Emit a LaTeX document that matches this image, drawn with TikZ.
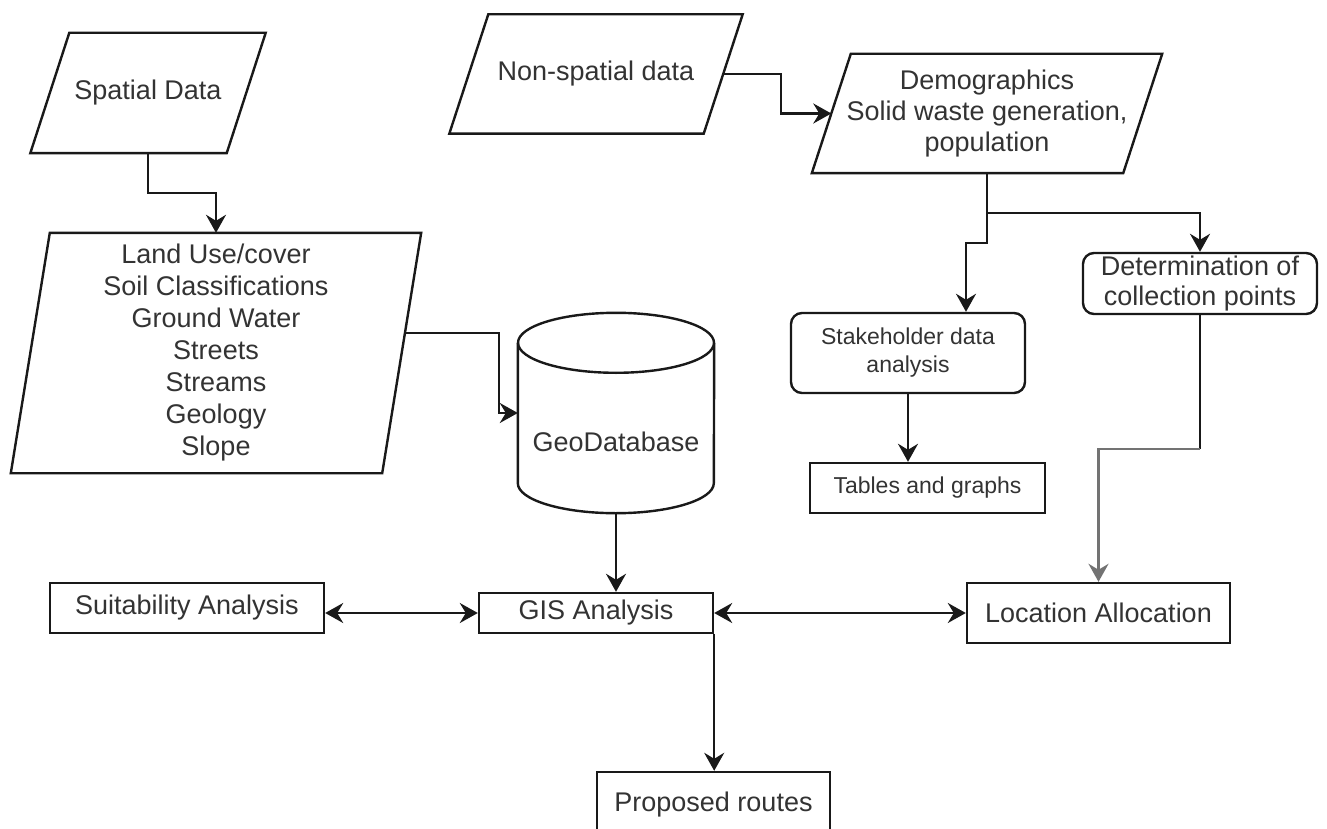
\documentclass[tikz,border=0pt]{standalone}
\usepackage{fontspec}
\setmainfont{Liberation Sans}
\usetikzlibrary{arrows.meta,calc}

\tikzset{
  every node/.style={text=black!80, align=center, inner sep=0pt,
    font=\fontsize{27}{32}\selectfont},
  line/.style={draw=black!90, line width=2.4pt},
  headtip/.style={-{Stealth[length=18pt,width=20pt,inset=6pt]}},
  arr/.style={line, headtip},
  biarr/.style={line, {Stealth[length=18pt,width=20pt,inset=6pt]}-{Stealth[length=18pt,width=20pt,inset=6pt]}},
  plainbox/.style={draw=black!90, line width=2.4pt, rectangle},
  roundbox/.style={plainbox, rounded corners=11pt},
  slantbox/.style={rectangle},
  cyl/.style={rectangle, minimum width=196pt, minimum height=200pt},
}

\begin{document}
\begin{tikzpicture}[x=1pt, y=-1pt]
  \useasboundingbox (0,0) rectangle (1327,829);
  \clip (0,0) rectangle (1327,829);
  \fill[white] (0,0) rectangle (1327,829);

  % input data (parallelograms, outline drawn below)
  \node[slantbox, minimum width=196pt, minimum height=120pt] (spatial) at (148,93) {Spatial Data};
  \node[slantbox, minimum width=371pt, minimum height=240pt] (layers) at (216,353)
    {Land Use/cover\\Soil Classifications\\Ground Water\\Streets\\Streams\\Geology\\Slope};
  \node[slantbox, minimum width=254pt, minimum height=119pt] (nonsp) at (596,74) {Non-spatial data};
  \node[slantbox, minimum width=311pt, minimum height=119pt,
        font=\fontsize{27}{31}\selectfont] (demo) at (987,113.5)
    {Demographics\\Solid waste generation,\\population};

  \foreach \n in {spatial,layers,nonsp,demo}
    \draw[line, line join=miter]
      ([xshift=19.5pt]\n.north west) -- ([xshift=19.5pt]\n.north east) --
      ([xshift=-19.5pt]\n.south east) -- ([xshift=-19.5pt]\n.south west) -- cycle;

  % database cylinder
  \node[cyl, label={[yshift=-29pt]center:GeoDatabase}] (geo) at (616,413) {};
  \draw[line] ([yshift=-30pt]geo.north) ellipse [x radius=98pt, y radius=30pt];
  \draw[line] ([yshift=-30pt]geo.north west) -- ([yshift=30pt]geo.south west)
    arc [start angle=180, end angle=360, x radius=98pt, y radius=30pt]
    -- ([yshift=-30pt]geo.north east);

  % processing steps
  \node[roundbox, minimum width=234pt, minimum height=80pt,
        font=\fontsize{23}{28}\selectfont] (stake) at (908,353) {Stakeholder data\\analysis};
  \node[plainbox, minimum width=235pt, minimum height=50pt,
        font=\fontsize{23}{28}\selectfont] (tables) at (927.5,488) {Tables and graphs};
  \node[roundbox, minimum width=234pt, minimum height=61pt,
        font=\fontsize{27}{30}\selectfont] (det) at (1200,283.5) {Determination of\\collection points};
  \node[plainbox, minimum width=263pt, minimum height=60pt] (loc) at (1098.5,613) {Location Allocation};
  \node[plainbox, minimum width=234pt, minimum height=40pt] (gis) at (596,613) {GIS Analysis};
  \node[plainbox, minimum width=274pt, minimum height=50pt] (suit) at (187,608) {Suitability Analysis};
  \node[plainbox, minimum width=233pt, minimum height=66pt] (prop) at (713.5,805) {Proposed routes};

  % connectors
  \draw[arr] (spatial.south) -- ++(0,40) -| (layers.north);
  \draw[arr] (nonsp.east) -- ++(58,0) |- (demo.west);
  \draw[arr] (demo.south) -- ++(0,40) -| (det.north);
  \draw[arr] (demo.south) -- ++(0,70) -| ([xshift=58pt]stake.north);
  \draw[arr] (stake.south) -- (stake.south |- tables.north);
  \coordinate (bend) at ($(det.south)+(0,134)$);
  \draw[line] (det.south) -- (bend);
  \draw[arr, draw=black!55] (bend) -| (loc.north);
  \draw[arr] ([shift={(3.2pt,20pt)}]layers.east) -- ++(94,0) |- (geo.west);
  \draw[arr] (geo.south) -- (geo.south |- gis.north);
  \draw[biarr] (gis.west -| suit.east) -- (gis.west);
  \draw[biarr] (gis.east) -- (loc.west |- gis.east);
  \draw[arr] (gis.south east) -- (gis.south east |- prop.north);
\end{tikzpicture}
\end{document}
